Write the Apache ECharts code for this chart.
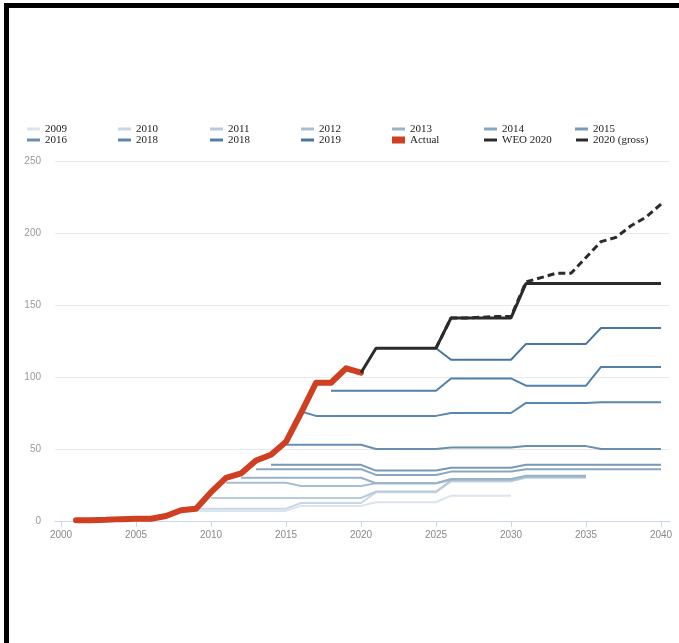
<!DOCTYPE html>
<html>
<head>
<meta charset="utf-8">
<title>Capacity outlooks</title>
<script src="https://cdn.jsdelivr.net/npm/echarts@6/dist/echarts.min.js"></script>
<style>
  html, body { margin: 0; padding: 0; background: #fff; overflow: hidden; }
  #chart { position: absolute; left: 0; top: 0; width: 679px; height: 643px; }
  #frame { position: absolute; left: 4px; top: 3px; width: 720px; height: 700px;
           border-top: 5px solid #000; border-left: 5px solid #000; box-sizing: border-box;
           pointer-events: none; }
</style>
</head>
<body>
<div id="chart"></div>
<div id="frame"></div>
<script>
// Tick positions on the year axis
const tickYears = [2000, 2005, 2010, 2015, 2020, 2025, 2030, 2035, 2040];

// Outlook vintages (legend labels, light to dark) and the first year of each line
const outlookNames = ['2009', '2010', '2011', '2012', '2013', '2014', '2015', '2016', '2018', '2018', '2019'];
const outlookStart = [2009, 2009, 2010, 2011, 2012, 2013, 2014, 2015, 2016, 2018, 2025];

// Projected values per vintage, one value per year from its start year
const o2009 = [7, 7, 7, 7, 7, 7, 7, 10.5, 10.5, 10.5, 10.5, 10.5, 13, 13, 13, 13, 13, 17.6, 17.6, 17.6, 17.6, 17.6];
const o2010 = [8.5, 8.5, 8.5, 8.5, 8.5, 8.5, 8.5, 12.5, 12.5, 12.5, 12.5, 12.5, 20, 20, 20, 20, 20, 27.5, 27.5, 27.5, 27.5, 27.5, 30, 30, 30, 30, 30];
const o2011 = [16, 16, 16, 16, 16, 16, 16, 16, 16, 16, 16, 20.4, 20.4, 20.4, 20.4, 20.4, 28, 28, 28, 28, 28, 30.4, 30.4, 30.4, 30.4, 30.4];
const o2012 = [26.5, 26.5, 26.5, 26.5, 26.5, 24.3, 24.3, 24.3, 24.3, 24.3, 26.2, 26.2, 26.2, 26.2, 26.2, 28.5, 28.5, 28.5, 28.5, 28.5, 30.8, 30.8, 30.8, 30.8, 30.8];
const o2013 = [30, 30, 30, 30, 30, 30, 30, 30, 30, 26.2, 26.2, 26.2, 26.2, 26.2, 29.2, 29.2, 29.2, 29.2, 29.2, 31.5, 31.5, 31.5, 31.5, 31.5];
const o2014 = [36, 36, 36, 36, 36, 36, 36, 36, 32, 32, 32, 32, 32, 34.3, 34.3, 34.3, 34.3, 34.3, 36, 36, 36, 36, 36, 36, 36, 36, 36, 36];
const o2015 = [39, 39, 39, 39, 39, 39, 39, 35, 35, 35, 35, 35, 37, 37, 37, 37, 37, 39, 39, 39, 39, 39, 39, 39, 39, 39, 39];
const o2016 = [53, 53, 53, 53, 53, 53, 50, 50, 50, 50, 50, 51, 51, 51, 51, 51, 52, 52, 52, 52, 52, 50, 50, 50, 50, 50];
const o2017 = [76, 73, 73, 73, 73, 73, 73, 73, 73, 73, 75, 75, 75, 75, 75, 82, 82, 82, 82, 82, 82.5, 82.5, 82.5, 82.5, 82.5];
const o2018 = [90.5, 90.5, 90.5, 90.5, 90.5, 90.5, 90.5, 90.5, 99, 99, 99, 99, 99, 94, 94, 94, 94, 94, 107, 107, 107, 107, 107];
const o2019 = [120, 112, 112, 112, 112, 112, 123, 123, 123, 123, 123, 134, 134, 134, 134, 134];
const outlookValues = [o2009, o2010, o2011, o2012, o2013, o2014, o2015, o2016, o2017, o2018, o2019];

// Historical values from 2001 to 2020
const actualStart = 2001;
const actual = [0.5, 0.6, 0.8, 1.3, 1.5, 1.6, 3.5, 7.5, 8.5, 20, 30, 33, 42, 46, 55, 75, 96, 96, 106, 103];

// Latest outlook: net from 2020, gross from 2025, both to 2040
const weoStart = 2020;
const weo2020 = [103, 120, 120, 120, 120, 120, 141, 141, 141, 141, 141, 165, 165, 165, 165, 165, 165, 165, 165, 165, 165];
const grossStart = 2025;
const weo2020Gross = [120, 141, 141, 141.5, 142, 142, 166, 169, 172, 172, 183, 194, 197, 205, 211, 220];

const outlookColors = ['#dbe4ed', '#cad7e4', '#b9cbdc', '#a8bed3', '#98b2ca', '#88a6c1', '#7899b8', '#698eb1', '#5c86ab', '#5180a8', '#4777a1'];

function pairs(start, values) {
  return values.map((v, i) => [start + i, v]);
}

const series = [];
outlookValues.forEach((vals, i) => {
  series.push({
    id: 'outlook' + i,
    name: outlookNames[i],
    type: 'line',
    data: pairs(outlookStart[i], vals),
    color: outlookColors[i],
    symbol: 'none',
    lineStyle: { width: 2, color: outlookColors[i] },
    z: 2
  });
});
series.push({
  name: 'Actual', type: 'line', data: pairs(actualStart, actual),
  color: '#cf3f22', symbol: 'none',
  lineStyle: { width: 6, color: '#cf3f22', join: 'round', cap: 'round' }, z: 4
});
series.push({
  name: '2020 (gross)', type: 'line', data: pairs(grossStart, weo2020Gross),
  color: '#2b2b2b', symbol: 'none',
  lineStyle: { width: 3, color: '#2b2b2b', type: [7, 4] }, z: 5
});
series.push({
  name: 'WEO 2020', type: 'line', data: pairs(weoStart, weo2020),
  color: '#2b2b2b', symbol: 'none',
  lineStyle: { width: 3, color: '#2b2b2b' }, z: 5
});

// One legend block per entry so the entries sit in fixed columns
const legendCols = [27, 118, 210, 301, 392, 484, 575];
const legendRows = [123, 134];
const legendEntries = [
  ['2009', 0, 0, 0], ['2010', 1, 0, 1], ['2011', 2, 0, 2], ['2012', 3, 0, 3],
  ['2013', 4, 0, 4], ['2014', 5, 0, 5], ['2015', 6, 0, 6],
  ['2016', 0, 1, 7], ['2018', 1, 1, 8], ['2018', 2, 1, 9], ['2019', 3, 1, 10],
  ['Actual', 4, 1, -1], ['WEO 2020', 5, 1, -1], ['2020 (gross)', 6, 1, -1]
];
const legendText = { fontFamily: 'Liberation Serif', fontSize: 11, color: '#222', lineHeight: 12 };
const legends = legendEntries.map(([name, col, row, idx]) => {
  const item = { name: name, icon: 'rect' };
  if (idx >= 0) item.itemStyle = { color: outlookColors[idx] };
  const isActual = name === 'Actual';
  const isGross = name === '2020 (gross)';
  return {
    data: [item],
    left: isGross ? legendCols[col] + 1 : legendCols[col],
    top: legendRows[row],
    padding: 0,
    itemWidth: isGross ? 12 : 13,
    itemHeight: isActual ? 7 : 3,
    textStyle: legendText,
    selectedMode: false
  };
});

const chart = echarts.init(document.getElementById('chart'));
chart.setOption({
  animation: false,
  backgroundColor: '#fff',
  legend: legends,
  grid: { left: 55, right: 9, top: 161, bottom: 122 },
  xAxis: {
    type: 'value', min: 1999.6, max: 2040.6,
    axisLine: { show: true, lineStyle: { color: '#ccd6eb', width: 1 } },
    axisTick: { show: true, customValues: tickYears, length: 6, lineStyle: { color: '#ccd6eb' } },
    axisLabel: {
      customValues: tickYears, formatter: v => String(v),
      color: '#888', fontSize: 10, fontFamily: 'Liberation Sans', margin: 9
    },
    splitLine: { show: false }
  },
  yAxis: {
    type: 'value', min: 0, max: 250, interval: 50,
    axisLine: { show: false }, axisTick: { show: false },
    axisLabel: { color: '#999', fontSize: 10, fontFamily: 'Liberation Sans', margin: 14 },
    splitLine: { lineStyle: { color: '#e9e9e9', width: 1 } }
  },
  series: series
});
</script>
</body>
</html>
